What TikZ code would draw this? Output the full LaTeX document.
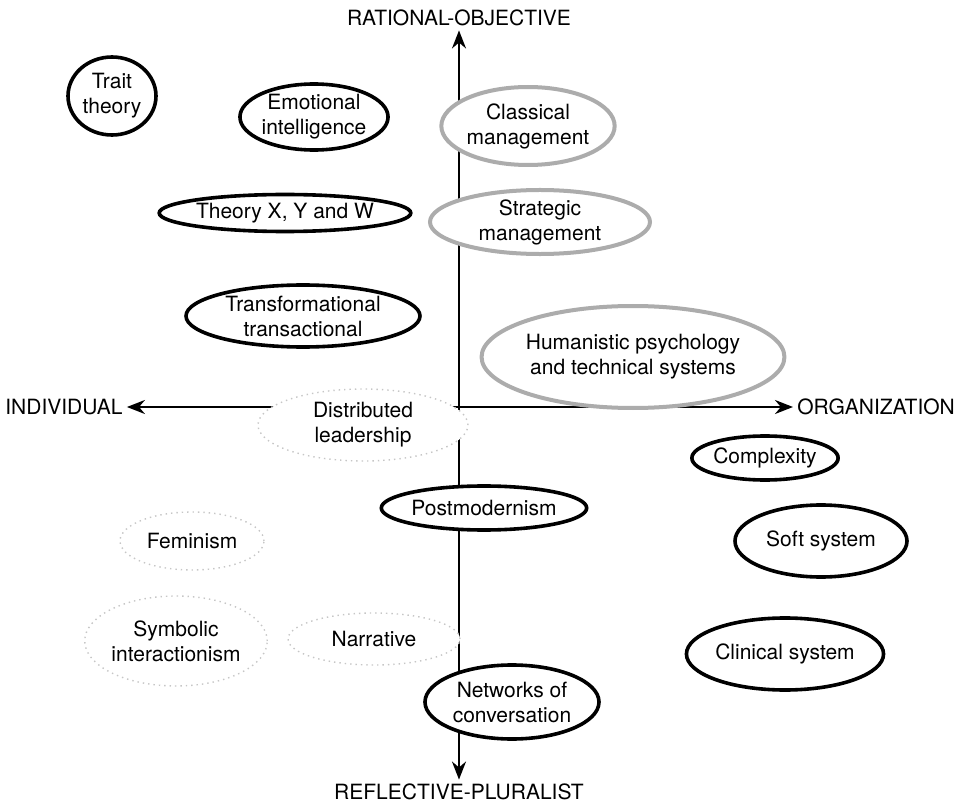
\documentclass[tikz,border=0pt]{standalone}
\usepackage{fontspec}
\setmainfont{TeX Gyre Heros}
\usetikzlibrary{shapes.geometric,arrows.meta}

\tikzset{
  theory/.style={ellipse, inner sep=0pt, align=center, fill=white,
    font=\fontsize{10.5}{12.5}\selectfont},
  strong/.style={theory, draw=black, line width=1.8pt},
  grey/.style={theory, draw=gray!65, line width=2pt},
  faint/.style={theory, draw=gray!45, dotted, line width=0.7pt},
  axis/.style={line width=1.1pt, -{Stealth[length=9pt,width=7pt]}, shorten >=1pt},
  pole/.style={font=\fontsize{10.5}{12.5}\selectfont, inner sep=1pt}
}

\begin{document}
\begin{tikzpicture}[x=0.5pt,y=-0.5pt]

        \useasboundingbox (0,0) rectangle (960,808);

        %Poles
        \coordinate (o) at (459,407);
        \node [pole] (rat) at (459,18)  {RATIONAL-OBJECTIVE};
        \node [pole] (ref) at (459,792) {REFLECTIVE-PLURALIST};
        \node [pole, anchor=west] (ind) at (3,407)   {INDIVIDUAL};
        \node [pole, anchor=west] (org) at (795,407) {ORGANIZATION};

        %Axes
        \draw [axis] (o) -- (rat.south);
        \draw [axis] (o) -- (ref.north);
        \draw [axis] (o) -- (ind.east);
        \draw [axis] (o) -- (org.west);

        %Upper left
        \node [strong, minimum width=44pt, minimum height=39pt]   (trait) at (112,96)  {Trait\\theory};
        \node [strong, minimum width=71pt, minimum height=33pt]   (emo)   at (314,117) {Emotional\\intelligence};
        \node [strong, minimum width=117pt, minimum height=18.5pt] (thx)  at (285,213) {Theory X, Y and W};
        \node [strong, minimum width=117pt, minimum height=31pt]  (trans) at (303,316) {Transformational\\transactional};

        %Upper right
        \node [grey, minimum width=84pt, minimum height=39pt]  (class) at (528,126) {Classical\\management};
        \node [grey, minimum width=110pt, minimum height=32pt] (strat) at (540,222) {Strategic\\management};
        \node [grey, minimum width=129pt, minimum height=51pt] (human) at (633,357) {Humanistic psychology\\and technical systems};

        %Lower left
        \node [faint, minimum width=105pt, minimum height=36pt] (dist) at (363,425) {Distributed\\leadership};
        \node [faint, minimum width=72pt, minimum height=29pt]  (fem)  at (192,541) {Feminism};
        \node [faint, minimum width=87pt, minimum height=45pt]  (sym)  at (176,641) {Symbolic\\interactionism};
        \node [faint, minimum width=86pt, minimum height=26pt]  (narr) at (374,639) {Narrative};

        %Lower right
        \node [strong, minimum width=74pt, minimum height=22pt]  (post) at (484,508) {Postmodernism};
        \node [strong, minimum width=87pt, minimum height=37pt]  (net)  at (512,702) {Networks of\\conversation};
        \node [strong, minimum width=72pt, minimum height=22pt]  (comp) at (765,458) {Complexity};
        \node [strong, minimum width=86pt, minimum height=36pt]  (soft) at (821,541) {Soft system};
        \node [strong, minimum width=83pt, minimum height=36pt]  (clin) at (785,654) {Clinical system};

\end{tikzpicture}
\end{document}
